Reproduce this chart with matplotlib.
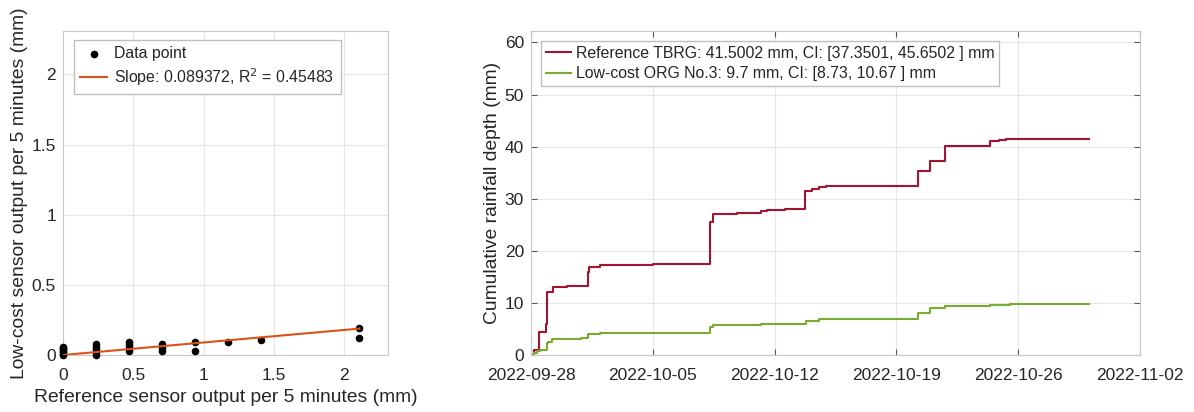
import numpy as np
import matplotlib
matplotlib.use("Agg")
import matplotlib.pyplot as plt

plt.rcParams['font.family'] = ['Liberation Sans', 'DejaVu Sans']

# ---- scatter data (reference vs low-cost per 5 minutes) ----
ref_x = [0, 0, 0, 0, 0, 0, 0,
         0.234, 0.234, 0.234, 0.234, 0.234,
         0.468, 0.468, 0.468, 0.468,
         0.702, 0.702, 0.702,
         0.936, 0.936,
         1.17, 1.404, 2.106, 2.106]
lowcost_y = [0, 0.01, 0.02, 0.03, 0.04, 0.05, 0.06,
             0, 0.02, 0.04, 0.06, 0.075,
             0.03, 0.05, 0.07, 0.09,
             0.03, 0.05, 0.075,
             0.09, 0.025,
             0.09, 0.11, 0.19, 0.12]
slope = 0.089372
r2 = 0.45483

# ---- cumulative series (days after 2022-09-28) ----
start_date = np.datetime64('2022-09-28T00:00')
ref_days = [0, 0.15, 0.48, 0.85, 0.94, 1.25, 2.05, 3.26, 3.35, 3.99, 7.0, 10.27, 10.45,
            11.85, 13.2, 13.55, 14.6, 15.75, 16.17, 16.55, 16.95, 22.22, 22.95, 23.79,
            26.38, 26.9, 27.3, 32.05]
ref_cum = [0, 1.0, 4.4, 6.0, 12.0, 13.0, 13.3, 16.0, 16.8, 17.2, 17.4, 25.5, 27.0,
           27.3, 27.6, 27.8, 28.0, 31.5, 31.8, 32.3, 32.5, 35.3, 37.3, 40.1,
           41.0, 41.3, 41.5, 41.5]
org_days = [0, 0.2, 0.35, 0.52, 0.9, 1.0, 1.2, 2.9, 3.3, 3.99, 10.3, 10.45, 13.2, 15.78,
            16.55, 22.22, 22.95, 23.79, 26.38, 27.5, 32.05]
org_cum = [0, 0.4, 0.8, 1.0, 2.3, 2.5, 3.0, 3.3, 4.0, 4.3, 5.3, 5.7, 5.9, 6.6,
           7.0, 8.0, 9.1, 9.4, 9.6, 9.7, 9.7]
ref_label = 'Reference TBRG: 41.5002 mm, CI: [37.3501, 45.6502 ] mm'
org_label = 'Low-cost ORG No.3: 9.7 mm, CI: [8.73, 10.67 ] mm'
xtick_dates = ['2022-09-28', '2022-10-05', '2022-10-12', '2022-10-19', '2022-10-26', '2022-11-02']

txt = '#262626'
spine_c = '#c8c8c8'
grid_c = '#e6e6e6'

fig = plt.figure(figsize=(11.94, 4.12), dpi=100)
W, H = 1194, 412

def style(ax):
    for s in ax.spines.values():
        s.set_color(spine_c)
        s.set_linewidth(0.8)
    ax.grid(True, color=grid_c, linewidth=0.8)
    ax.set_axisbelow(True)
    ax.tick_params(direction='in', length=4, color='#555555', labelcolor=txt,
                   labelsize=12.5, top=True, right=True)
    ax.tick_params(axis='x', pad=9)
    ax.tick_params(axis='y', pad=5)

# ---- left axes ----
ax1 = fig.add_axes([63 / W, 57 / H, 325 / W, 324 / H])
style(ax1)
ax1.scatter(ref_x, lowcost_y, s=20, color='black', zorder=3, label='Data point', clip_on=False)
xl = np.array([0, max(ref_x)])
ax1.plot(xl, slope * xl, color='#D95319', lw=1.5, zorder=4,
         label='Slope: %g, R$^2$ = %g' % (slope, r2))
ax1.set_xlim(0, 2.31)
ax1.set_ylim(0, 2.31)
ax1.set_xticks([0, 0.5, 1, 1.5, 2])
ax1.set_xticklabels(['0', '0.5', '1', '1.5', '2'])
ax1.set_yticks([0, 0.5, 1, 1.5, 2])
ax1.set_yticklabels(['0', '0.5', '1', '1.5', '2'])
ax1.tick_params(length=0)
ax1.set_xlabel('Reference sensor output per 5 minutes (mm)', fontsize=13.9, color=txt, labelpad=5)
ax1.set_ylabel('Low-cost sensor output per 5 minutes (mm)', fontsize=13.9, color=txt, labelpad=3)
leg1 = ax1.legend(loc='upper left', bbox_to_anchor=(11 / 325, 1 - 9 / 324), fontsize=11.4,
                  frameon=True, fancybox=False, edgecolor='#bfbfbf', framealpha=1,
                  handlelength=1.7, borderpad=0.4, labelspacing=0.3, handletextpad=0.45,
                  borderaxespad=0)
for t in leg1.get_texts():
    t.set_color(txt)

# ---- right axes ----
ax2 = fig.add_axes([531 / W, 57 / H, 609 / W, 324 / H])
style(ax2)
rt = start_date + (np.array(ref_days) * 24 * 60).astype('timedelta64[m]')
ot = start_date + (np.array(org_days) * 24 * 60).astype('timedelta64[m]')
ax2.plot(rt, ref_cum, color='#A2142F', lw=1.5, drawstyle='steps-post', label=ref_label)
ax2.plot(ot, org_cum, color='#77AC30', lw=1.5, drawstyle='steps-post', label=org_label)
xt = np.array(xtick_dates, dtype='datetime64[D]')
ax2.set_xticks(xt)
ax2.set_xticklabels(xtick_dates)
ax2.set_xlim(xt[0], xt[-1])
ax2.set_ylim(0, 62.2)
ax2.set_yticks([0, 10, 20, 30, 40, 50, 60])
ax2.set_ylabel('Cumulative rainfall depth (mm)', fontsize=13.9, color=txt, labelpad=3)
leg2 = ax2.legend(loc='upper left', bbox_to_anchor=(10 / 609, 1 - 10 / 324), fontsize=11.4,
                  frameon=True, fancybox=False, edgecolor='#bfbfbf', framealpha=1,
                  handlelength=1.6, borderpad=0.3, labelspacing=0.35, handletextpad=0.3,
                  borderaxespad=0)
for t in leg2.get_texts():
    t.set_color(txt)

fig.savefig('out.png', dpi=100)
